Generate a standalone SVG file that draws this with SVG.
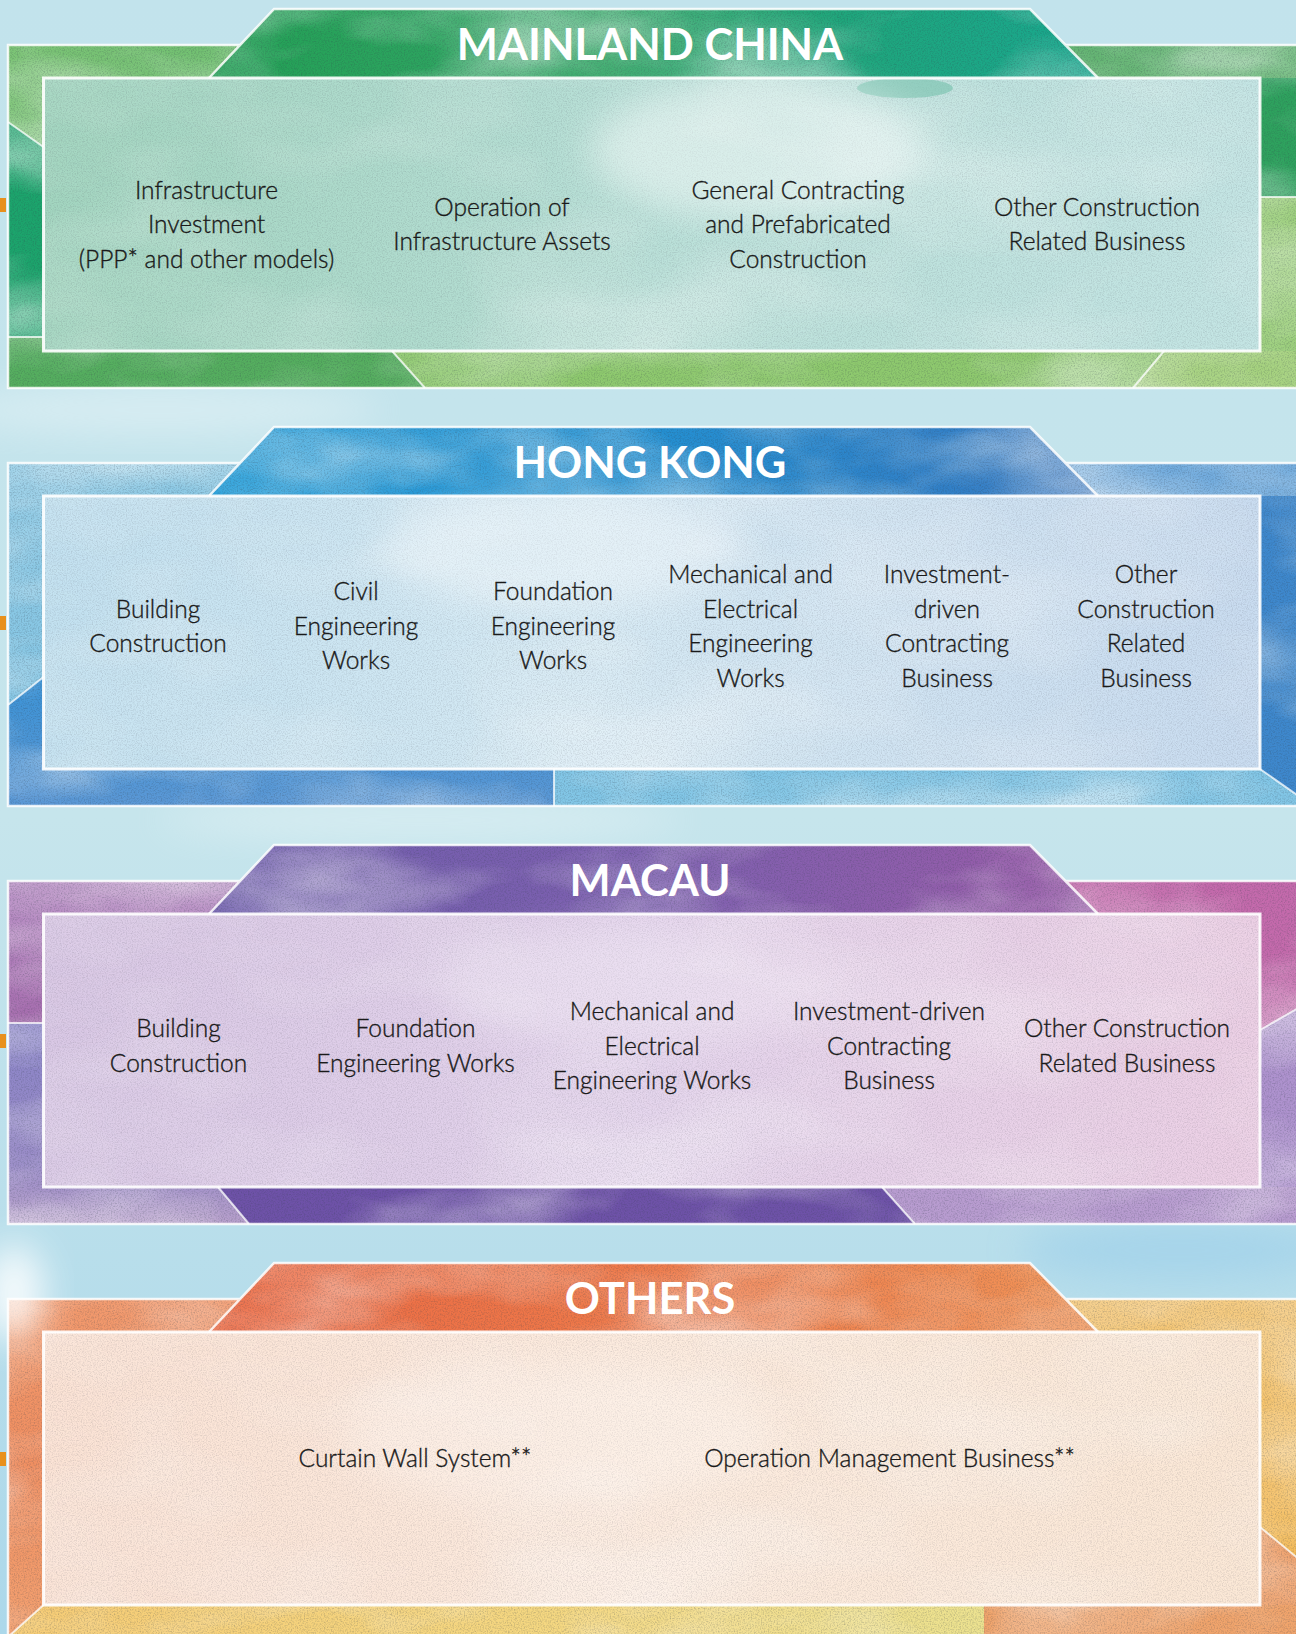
<svg xmlns="http://www.w3.org/2000/svg" width="1296" height="1634" viewBox="0 0 1296 1634">
  <style>
    .title { font-family: Lato, "Open Sans", "Noto Sans", sans-serif; font-weight: 700; font-size: 43.5px; fill: #ffffff; text-anchor: middle; }
    .item { font-family: Lato, "Open Sans", "Noto Sans", sans-serif; font-weight: 300; font-size: 24.5px; fill: #1a1a1a; stroke: #1a1a1a; stroke-width: 0.35; text-anchor: middle; }
    .seam { fill: none; stroke: #ffffff; stroke-width: 2; stroke-opacity: 0.75; }
    .edge { fill: none; stroke: #ffffff; stroke-width: 2.5; stroke-opacity: 0.85; stroke-linejoin: miter; }
    .panel-edge { fill: none; stroke: #ffffff; stroke-width: 3; stroke-opacity: 0.9; }
    .marker { fill: #e8901c; }
  </style>
  <defs>
    <!-- watercolour wash + paper grain for the coloured frame bands and banners -->
    <filter id="wash0" x="0" y="0" width="1" height="1" color-interpolation-filters="sRGB">
      <feTurbulence type="fractalNoise" baseFrequency="0.005 0.011" numOctaves="4" seed="2" result="n"/>
      <feColorMatrix in="n" type="matrix" values="0 0 0 0 1  0 0 0 0 1  0 0 0 0 1  1.1 0 0 0 -0.46" result="w"/>
      <feComposite in="w" in2="SourceAlpha" operator="in" result="wm"/>
      <feTurbulence type="fractalNoise" baseFrequency="0.7" numOctaves="2" seed="9" result="g"/>
      <feColorMatrix in="g" type="matrix" values="0 0 0 0 0.2  0 0 0 0 0.25  0 0 0 0 0.3  0.6 0 0 0 -0.26" result="gd"/>
      <feComposite in="gd" in2="SourceAlpha" operator="in" result="gm"/>
      <feMerge><feMergeNode in="SourceGraphic"/><feMergeNode in="wm"/><feMergeNode in="gm"/></feMerge>
    </filter>
    <filter id="wash1" x="0" y="0" width="1" height="1" color-interpolation-filters="sRGB">
      <feTurbulence type="fractalNoise" baseFrequency="0.005 0.011" numOctaves="4" seed="5" result="n"/>
      <feColorMatrix in="n" type="matrix" values="0 0 0 0 1  0 0 0 0 1  0 0 0 0 1  1.1 0 0 0 -0.46" result="w"/>
      <feComposite in="w" in2="SourceAlpha" operator="in" result="wm"/>
      <feTurbulence type="fractalNoise" baseFrequency="0.7" numOctaves="2" seed="11" result="g"/>
      <feColorMatrix in="g" type="matrix" values="0 0 0 0 0.2  0 0 0 0 0.25  0 0 0 0 0.3  0.6 0 0 0 -0.26" result="gd"/>
      <feComposite in="gd" in2="SourceAlpha" operator="in" result="gm"/>
      <feMerge><feMergeNode in="SourceGraphic"/><feMergeNode in="wm"/><feMergeNode in="gm"/></feMerge>
    </filter>
    <filter id="wash2" x="0" y="0" width="1" height="1" color-interpolation-filters="sRGB">
      <feTurbulence type="fractalNoise" baseFrequency="0.005 0.011" numOctaves="4" seed="8" result="n"/>
      <feColorMatrix in="n" type="matrix" values="0 0 0 0 1  0 0 0 0 1  0 0 0 0 1  1.1 0 0 0 -0.46" result="w"/>
      <feComposite in="w" in2="SourceAlpha" operator="in" result="wm"/>
      <feTurbulence type="fractalNoise" baseFrequency="0.7" numOctaves="2" seed="13" result="g"/>
      <feColorMatrix in="g" type="matrix" values="0 0 0 0 0.2  0 0 0 0 0.25  0 0 0 0 0.3  0.6 0 0 0 -0.26" result="gd"/>
      <feComposite in="gd" in2="SourceAlpha" operator="in" result="gm"/>
      <feMerge><feMergeNode in="SourceGraphic"/><feMergeNode in="wm"/><feMergeNode in="gm"/></feMerge>
    </filter>
    <filter id="wash3" x="0" y="0" width="1" height="1" color-interpolation-filters="sRGB">
      <feTurbulence type="fractalNoise" baseFrequency="0.005 0.011" numOctaves="4" seed="14" result="n"/>
      <feColorMatrix in="n" type="matrix" values="0 0 0 0 1  0 0 0 0 1  0 0 0 0 1  1.1 0 0 0 -0.46" result="w"/>
      <feComposite in="w" in2="SourceAlpha" operator="in" result="wm"/>
      <feTurbulence type="fractalNoise" baseFrequency="0.7" numOctaves="2" seed="17" result="g"/>
      <feColorMatrix in="g" type="matrix" values="0 0 0 0 0.2  0 0 0 0 0.25  0 0 0 0 0.3  0.6 0 0 0 -0.26" result="gd"/>
      <feComposite in="gd" in2="SourceAlpha" operator="in" result="gm"/>
      <feMerge><feMergeNode in="SourceGraphic"/><feMergeNode in="wm"/><feMergeNode in="gm"/></feMerge>
    </filter>
    <!-- quieter texture for the pale text panels -->
    <filter id="paper" x="0" y="0" width="1" height="1" color-interpolation-filters="sRGB">
      <feTurbulence type="fractalNoise" baseFrequency="0.004 0.008" numOctaves="3" seed="21" result="n"/>
      <feColorMatrix in="n" type="matrix" values="0 0 0 0 1  0 0 0 0 1  0 0 0 0 1  0.8 0 0 0 -0.34" result="w"/>
      <feComposite in="w" in2="SourceAlpha" operator="in" result="wm"/>
      <feTurbulence type="fractalNoise" baseFrequency="0.8" numOctaves="2" seed="4" result="g"/>
      <feColorMatrix in="g" type="matrix" values="0 0 0 0 0.3  0 0 0 0 0.3  0 0 0 0 0.35  0.4 0 0 0 -0.17" result="gd"/>
      <feComposite in="gd" in2="SourceAlpha" operator="in" result="gm"/>
      <feMerge><feMergeNode in="SourceGraphic"/><feMergeNode in="wm"/><feMergeNode in="gm"/></feMerge>
    </filter>
    <filter id="soft" x="-50%" y="-50%" width="200%" height="200%">
      <feGaussianBlur stdDeviation="18"/>
    </filter>

    <!-- page background -->
    <linearGradient id="bg" x1="0" y1="0" x2="0" y2="1">
      <stop offset="0" stop-color="#c2e3ec"/>
      <stop offset="0.5" stop-color="#c6e5ec"/>
      <stop offset="1" stop-color="#acd8ea"/>
    </linearGradient>

    <!-- mainland china -->
    <linearGradient id="mcBanner" x1="0" y1="0" x2="1" y2="0">
      <stop offset="0" stop-color="#22a055"/>
      <stop offset="0.45" stop-color="#35a868"/>
      <stop offset="0.72" stop-color="#1fa67c"/>
      <stop offset="1" stop-color="#19a88f"/>
    </linearGradient>
    <linearGradient id="mcTop" x1="0" y1="0" x2="1" y2="0">
      <stop offset="0" stop-color="#7cc476"/>
      <stop offset="1" stop-color="#5cb868"/>
    </linearGradient>
    <linearGradient id="mcPanel" x1="0" y1="0" x2="1" y2="0">
      <stop offset="0" stop-color="#a2d5bf"/>
      <stop offset="0.5" stop-color="#b9e0d8"/>
      <stop offset="1" stop-color="#c4e5e4"/>
    </linearGradient>

    <!-- hong kong -->
    <linearGradient id="hkBanner" x1="0" y1="0" x2="1" y2="0">
      <stop offset="0" stop-color="#1a9ad8"/>
      <stop offset="0.5" stop-color="#2490d2"/>
      <stop offset="1" stop-color="#3878c2"/>
    </linearGradient>
    <linearGradient id="hkTop" x1="0" y1="0" x2="0" y2="1">
      <stop offset="0" stop-color="#8ecae5"/>
      <stop offset="1" stop-color="#86c6e4"/>
    </linearGradient>
    <linearGradient id="hkLow" x1="0" y1="0" x2="0" y2="1">
      <stop offset="0" stop-color="#3b93d6"/>
      <stop offset="1" stop-color="#5b98d6"/>
    </linearGradient>
    <linearGradient id="hkPanel" x1="0" y1="0" x2="1" y2="0">
      <stop offset="0" stop-color="#c2e1f0"/>
      <stop offset="0.45" stop-color="#d6eaf4"/>
      <stop offset="1" stop-color="#c9dcf0"/>
    </linearGradient>

    <!-- macau -->
    <linearGradient id="moBanner" x1="0" y1="0" x2="1" y2="0">
      <stop offset="0" stop-color="#6f5dad"/>
      <stop offset="0.5" stop-color="#7e60b0"/>
      <stop offset="1" stop-color="#9a5ca9"/>
    </linearGradient>
    <linearGradient id="moTop" x1="0" y1="0" x2="0" y2="1">
      <stop offset="0" stop-color="#ba92c6"/>
      <stop offset="0.3" stop-color="#b486c0"/>
      <stop offset="1" stop-color="#a66cae"/>
    </linearGradient>
    <linearGradient id="moLow" x1="0" y1="0" x2="0" y2="1">
      <stop offset="0" stop-color="#8a84c8"/>
      <stop offset="0.7" stop-color="#9a8cc8"/>
      <stop offset="1" stop-color="#b8a0cc"/>
    </linearGradient>
    <linearGradient id="moPanel" x1="0" y1="0" x2="1" y2="0">
      <stop offset="0" stop-color="#d9c8e5"/>
      <stop offset="0.5" stop-color="#e4d4ec"/>
      <stop offset="1" stop-color="#ecd0e5"/>
    </linearGradient>

    <!-- others -->
    <linearGradient id="otBanner" x1="0" y1="0" x2="1" y2="0">
      <stop offset="0" stop-color="#ec6a44"/>
      <stop offset="0.5" stop-color="#ef7a4a"/>
      <stop offset="1" stop-color="#f19458"/>
    </linearGradient>
    <linearGradient id="otLeft" x1="0" y1="0" x2="0" y2="1">
      <stop offset="0" stop-color="#f29a6e"/>
      <stop offset="0.5" stop-color="#f08e60"/>
      <stop offset="1" stop-color="#f3a272"/>
    </linearGradient>
    <linearGradient id="otBottom" x1="0" y1="0" x2="1" y2="0">
      <stop offset="0" stop-color="#f6cc76"/>
      <stop offset="0.6" stop-color="#f4d882"/>
      <stop offset="1" stop-color="#ece290"/>
    </linearGradient>
    <linearGradient id="otRight" x1="0" y1="0" x2="0" y2="1">
      <stop offset="0" stop-color="#f4c470"/>
      <stop offset="1" stop-color="#f5bc5a"/>
    </linearGradient>
    <linearGradient id="otPanel" x1="0" y1="0" x2="1" y2="0">
      <stop offset="0" stop-color="#fbe3d5"/>
      <stop offset="0.5" stop-color="#fcebde"/>
      <stop offset="1" stop-color="#fbe8d6"/>
    </linearGradient>
  </defs>

  <!-- sky-blue backdrop -->
  <g id="backdrop">
    <rect width="1296" height="1634" fill="url(#bg)"/>
    <ellipse cx="160" cy="410" rx="220" ry="22" fill="#ffffff" opacity="0.35" filter="url(#soft)"/>
    <ellipse cx="420" cy="820" rx="260" ry="20" fill="#ffffff" opacity="0.3" filter="url(#soft)"/>
    <ellipse cx="1180" cy="1250" rx="160" ry="30" fill="#9fd0ea" opacity="0.7" filter="url(#soft)"/>
  </g>

  <!-- MAINLAND CHINA -->
  <g id="mainland-china">
    <g filter="url(#wash0)">
      <polygon points="8,45 650,45 650,147 43.5,147 8,122" fill="url(#mcTop)"/>
      <polygon points="8,122 43.5,147 60,147 60,337 8,337" fill="#1ca46c"/>
      <polygon points="8,337 60,337 60,351 392,351 425,388 8,388" fill="#55ae5f"/>
      <polygon points="392,351 1164,351 1133,388 425,388" fill="#8ec96e"/>
      <polygon points="1164,351 1300,351 1300,388 1133,388" fill="#a6d27f"/>
      <rect x="650" y="45" width="650" height="152" fill="#5ab06a"/>
      <rect x="1250" y="78" width="50" height="119" fill="#2ea25e"/>
      <rect x="1250" y="197" width="50" height="154" fill="#9ccf7c"/>
      <polygon points="209,78 274,9 1030,9 1098,78" fill="url(#mcBanner)"/>
    </g>
    <g filter="url(#paper)">
      <rect x="43.5" y="78" width="1216.5" height="273" fill="url(#mcPanel)"/>
    </g>
    <ellipse cx="905" cy="88" rx="48" ry="10" fill="#7fc4b2" opacity="0.7"/>
    <ellipse cx="760" cy="150" rx="170" ry="70" fill="#ffffff" opacity="0.45" filter="url(#soft)"/>
    <ellipse cx="560" cy="48" rx="110" ry="20" fill="#ffffff" opacity="0.18" filter="url(#soft)"/>
    <rect class="panel-edge" x="43.5" y="78" width="1216.5" height="273"/>
    <path class="seam" d="M8,122 L43.5,147 M8,337 L43.5,337 M392,351 L425,388 M1164,351 L1133,388 M1260,197 L1300,197"/>
    <path class="edge" d="M240,45 L8,45 L8,388 L1300,388 M1065.5,45 L1300,45 M209,78 L274,9 L1030,9 L1098,78"/>
    <text class="title" x="650" y="60">MAINLAND CHINA</text>
    <g id="mc-infrastructure-investment">
      <text class="item" x="206.5" y="199">Infrastructure</text>
      <text class="item" x="206.5" y="233.3">Investment</text>
      <text class="item" x="206.5" y="267.6">(PPP* and other models)</text>
    </g>
    <g id="mc-infrastructure-operation">
      <text class="item" x="502" y="216">Operation of</text>
      <text class="item" x="502" y="250.3">Infrastructure Assets</text>
    </g>
    <g id="mc-general-contracting">
      <text class="item" x="798" y="199">General Contracting</text>
      <text class="item" x="798" y="233.3">and Prefabricated</text>
      <text class="item" x="798" y="267.6">Construction</text>
    </g>
    <g id="mc-other-construction">
      <text class="item" x="1097" y="216">Other Construction</text>
      <text class="item" x="1097" y="250.3">Related Business</text>
    </g>
  </g>

  <!-- HONG KONG -->
  <g id="hong-kong" transform="translate(0,418)">
    <g filter="url(#wash1)">
      <polygon points="8,45 650,45 650,259 43.5,259 8,287" fill="url(#hkTop)"/>
      <polygon points="8,287 43.5,259 60,259 60,351 554,351 554,388 8,388" fill="url(#hkLow)"/>
      <rect x="554" y="351" width="746" height="37" fill="#82c6e6"/>
      <rect x="650" y="45" width="650" height="33" fill="#72acde"/>
      <polygon points="1250,78 1300,78 1300,379 1260,351 1250,351" fill="#3e88cd"/>
      <polygon points="209,78 274,9 1030,9 1098,78" fill="url(#hkBanner)"/>
    </g>
    <g filter="url(#paper)">
      <rect x="43.5" y="78" width="1216.5" height="273" fill="url(#hkPanel)"/>
    </g>
    <ellipse cx="560" cy="130" rx="180" ry="60" fill="#ffffff" opacity="0.35" filter="url(#soft)"/>
    <rect class="panel-edge" x="43.5" y="78" width="1216.5" height="273"/>
    <path class="seam" d="M8,287 L43.5,259 M554,351 L554,388 M1260,351 L1300,379"/>
    <path class="edge" d="M240,45 L8,45 L8,388 L1300,388 M1065.5,45 L1300,45 M209,78 L274,9 L1030,9 L1098,78"/>
    <text class="title" x="650" y="60">HONG KONG</text>
    <g id="hk-building">
      <text class="item" x="158" y="199.5">Building</text>
      <text class="item" x="158" y="234">Construction</text>
    </g>
    <g id="hk-civil">
      <text class="item" x="356" y="182">Civil</text>
      <text class="item" x="356" y="216.5">Engineering</text>
      <text class="item" x="356" y="251">Works</text>
    </g>
    <g id="hk-foundation">
      <text class="item" x="553" y="182">Foundation</text>
      <text class="item" x="553" y="216.5">Engineering</text>
      <text class="item" x="553" y="251">Works</text>
    </g>
    <g id="hk-mechanical-electrical">
      <text class="item" x="750.5" y="165">Mechanical and</text>
      <text class="item" x="750.5" y="199.5">Electrical</text>
      <text class="item" x="750.5" y="234">Engineering</text>
      <text class="item" x="750.5" y="268.5">Works</text>
    </g>
    <g id="hk-investment-driven">
      <text class="item" x="947" y="165">Investment-</text>
      <text class="item" x="947" y="199.5">driven</text>
      <text class="item" x="947" y="234">Contracting</text>
      <text class="item" x="947" y="268.5">Business</text>
    </g>
    <g id="hk-other-construction">
      <text class="item" x="1146" y="165">Other</text>
      <text class="item" x="1146" y="199.5">Construction</text>
      <text class="item" x="1146" y="234">Related</text>
      <text class="item" x="1146" y="268.5">Business</text>
    </g>
  </g>

  <!-- MACAU -->
  <g id="macau" transform="translate(0,836)">
    <g filter="url(#wash2)">
      <polygon points="8,45 650,45 650,187 8,187" fill="url(#moTop)"/>
      <polygon points="8,187 60,187 60,351 218,351 249,388 8,388" fill="url(#moLow)"/>
      <polygon points="218,351 882,351 915,388 249,388" fill="#6e52a8"/>
      <polygon points="882,351 1300,351 1300,388 915,388" fill="#b89cd0"/>
      <polygon points="650,45 1300,45 1300,171 1260,194 650,194" fill="#c46aac"/>
      <polygon points="1250,194 1260,194 1300,171 1300,351 1250,351" fill="#ae92ce"/>
      <polygon points="209,78 274,9 1030,9 1098,78" fill="url(#moBanner)"/>
    </g>
    <g filter="url(#paper)">
      <rect x="43.5" y="78" width="1216.5" height="273" fill="url(#moPanel)"/>
    </g>
    <ellipse cx="640" cy="150" rx="200" ry="60" fill="#ffffff" opacity="0.25" filter="url(#soft)"/>
    <rect class="panel-edge" x="43.5" y="78" width="1216.5" height="273"/>
    <path class="seam" d="M8,187 L43.5,187 M218,351 L249,388 M882,351 L915,388 M1260,194 L1300,171"/>
    <path class="edge" d="M240,45 L8,45 L8,388 L1300,388 M1065.5,45 L1300,45 M209,78 L274,9 L1030,9 L1098,78"/>
    <text class="title" x="650" y="60">MACAU</text>
    <g id="mo-building">
      <text class="item" x="178.5" y="201">Building</text>
      <text class="item" x="178.5" y="235.5">Construction</text>
    </g>
    <g id="mo-foundation">
      <text class="item" x="415.5" y="201">Foundation</text>
      <text class="item" x="415.5" y="235.5">Engineering Works</text>
    </g>
    <g id="mo-mechanical-electrical">
      <text class="item" x="652" y="184">Mechanical and</text>
      <text class="item" x="652" y="218.5">Electrical</text>
      <text class="item" x="652" y="253">Engineering Works</text>
    </g>
    <g id="mo-investment-driven">
      <text class="item" x="889" y="184">Investment-driven</text>
      <text class="item" x="889" y="218.5">Contracting</text>
      <text class="item" x="889" y="253">Business</text>
    </g>
    <g id="mo-other-construction">
      <text class="item" x="1127" y="201">Other Construction</text>
      <text class="item" x="1127" y="235.5">Related Business</text>
    </g>
  </g>

  <!-- OTHERS -->
  <g id="others" transform="translate(0,1254)">
    <g filter="url(#wash3)">
      <polygon points="8,45 650,45 650,351 43.5,351 8,383" fill="url(#otLeft)"/>
      <polygon points="8,383 43.5,351 984,351 984,388 8,388" fill="url(#otBottom)"/>
      <rect x="984" y="351" width="316" height="37" fill="#f0a46c"/>
      <polygon points="650,45 1300,45 1300,306 1260,273 650,273" fill="url(#otRight)"/>
      <polygon points="1250,273 1260,273 1300,306 1300,351 1250,351" fill="#f0a470"/>
      <polygon points="209,78 274,9 1030,9 1098,78" fill="url(#otBanner)"/>
    </g>
    <g filter="url(#paper)">
      <rect x="43.5" y="78" width="1216.5" height="273" fill="url(#otPanel)"/>
    </g>
    <ellipse cx="14" cy="40" rx="30" ry="50" fill="#ffffff" opacity="0.85" filter="url(#soft)"/>
    <ellipse cx="560" cy="180" rx="220" ry="70" fill="#ffffff" opacity="0.25" filter="url(#soft)"/>
    <rect class="panel-edge" x="43.5" y="78" width="1216.5" height="273"/>
    <path class="seam" d="M8,383 L43.5,351 M1260,273 L1300,306"/>
    <path class="edge" d="M240,45 L8,45 L8,388 M1065.5,45 L1300,45 M209,78 L274,9 L1030,9 L1098,78"/>
    <text class="title" x="650" y="60">OTHERS</text>
    <g id="ot-curtain-wall">
      <text class="item" x="415" y="213">Curtain Wall System**</text>
    </g>
    <g id="ot-operation-management">
      <text class="item" x="889.5" y="213">Operation Management Business**</text>
    </g>
  </g>

  <!-- page-edge tabs -->
  <g id="edge-tabs">
    <rect class="marker" x="0" y="198" width="6" height="14"/>
    <rect class="marker" x="0" y="616" width="6" height="14"/>
    <rect class="marker" x="0" y="1034" width="6" height="14"/>
    <rect class="marker" x="0" y="1452" width="6" height="14"/>
  </g>
</svg>
